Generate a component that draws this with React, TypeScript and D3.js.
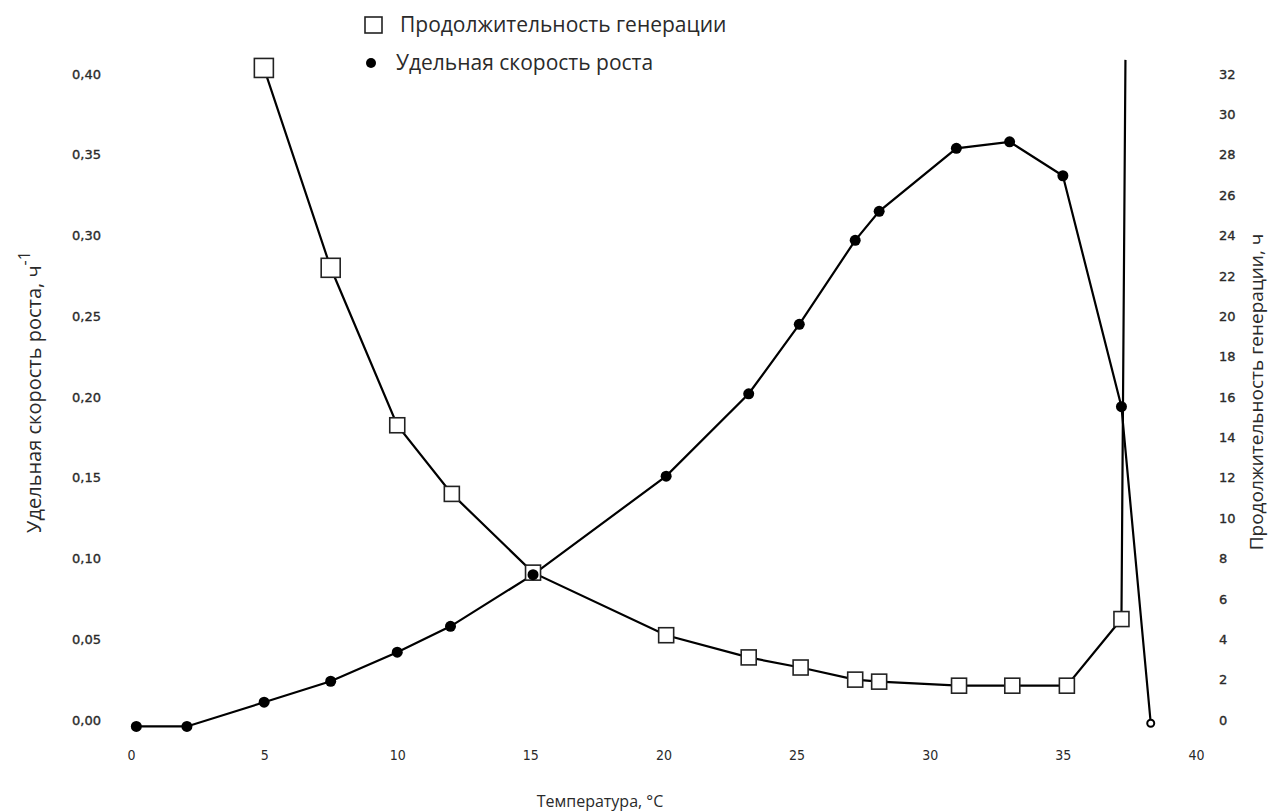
import React, { useEffect, useRef } from "react";
import * as d3 from "d3";

// температура, °C
const growthTemp = [0.2, 2.1, 5, 7.5, 10, 12, 15.1, 20.1, 23.2, 25.1, 27.2, 28.1, 31.0, 33.0, 35.0, 37.2, 38.3];
// удельная скорость роста, ч-1
const growthRate = [-0.004, -0.004, 0.011, 0.024, 0.042, 0.058, 0.090, 0.151, 0.202, 0.245, 0.297, 0.315, 0.354, 0.358, 0.337, 0.194, -0.002];

const genTemp = [4.99, 7.5, 10.0, 12.05, 15.1, 20.1, 23.2, 25.15, 27.2, 28.1, 31.1, 33.1, 35.15, 37.2, 37.35];
// продолжительность генерации, ч
const genTime = [32.3, 22.4, 14.6, 11.2, 7.3, 4.2, 3.1, 2.6, 2.0, 1.9, 1.7, 1.7, 1.7, 5.0, 32.7];

const xTicks = [0, 5, 10, 15, 20, 25, 30, 35, 40];
const leftTicks = [0, 0.05, 0.1, 0.15, 0.2, 0.25, 0.3, 0.35, 0.4];
const rightTicks = [0, 2, 4, 6, 8, 10, 12, 14, 16, 18, 20, 22, 24, 26, 28, 30, 32];

const W = 1278;
const H = 811;

const App = () => {
  const svgRef = useRef<SVGSVGElement>(null);

  useEffect(() => {
    const svg = d3.select(svgRef.current);
    svg.selectAll("*").remove();

    const x = d3.scaleLinear().domain([0, 40]).range([131, 1196]);
    const yL = d3.scaleLinear().domain([0, 0.4]).range([720, 74]);
    const yR = d3.scaleLinear().domain([0, 32]).range([720, 74]);

    const tickFont = "DejaVu Sans";
    const textCol = "#2a2a2a";

    // оси без линий и засечек
    const xAxis = d3.axisBottom(x).tickValues(xTicks).tickSize(0).tickPadding(0);
    const gx = svg.append("g").attr("transform", "translate(0,750)").call(xAxis);
    gx.select(".domain").remove();
    gx.selectAll("text")
      .attr("font-family", "'DejaVu Sans Condensed', 'DejaVu Sans'")
      .attr("font-size", 14)
      .attr("fill", textCol);

    const leftAxis = d3
      .axisLeft(yL)
      .tickValues(leftTicks)
      .tickSize(0)
      .tickPadding(0)
      .tickFormat((d) => d3.format(".2f")(d as number).replace(".", ","));
    const gl = svg.append("g").attr("transform", "translate(101,0)").call(leftAxis);
    gl.select(".domain").remove();
    gl.selectAll("text")
      .attr("font-family", tickFont)
      .attr("font-size", 13)
      .attr("fill", textCol)
      .attr("stroke", textCol)
      .attr("stroke-width", 0.35);

    const rightAxis = d3.axisRight(yR).tickValues(rightTicks).tickSize(0).tickPadding(0);
    const gr = svg.append("g").attr("transform", "translate(1219,0)").call(rightAxis);
    gr.select(".domain").remove();
    gr.selectAll("text")
      .attr("font-family", tickFont)
      .attr("font-size", 13)
      .attr("fill", textCol)
      .attr("stroke", textCol)
      .attr("stroke-width", 0.35);

    // линии
    const genData = genTemp.map((t, i) => [t, genTime[i]] as [number, number]);
    const growthData = growthTemp.map((t, i) => [t, growthRate[i]] as [number, number]);

    const genLine = d3.line<[number, number]>().x((d) => x(d[0])).y((d) => yR(d[1]));
    const growthLine = d3.line<[number, number]>().x((d) => x(d[0])).y((d) => yL(d[1]));

    svg.append("path").attr("d", genLine(genData)).attr("fill", "none").attr("stroke", "#000").attr("stroke-width", 2.2);
    svg.append("path").attr("d", growthLine(growthData)).attr("fill", "none").attr("stroke", "#000").attr("stroke-width", 2.2);

    // квадраты: первые две точки в оригинале крупнее
    const side = (v: number) => (v > 20 ? 19 : 15);
    svg
      .selectAll(".gen")
      .data(genData.slice(0, genData.length - 1))
      .join("rect")
      .attr("class", "gen")
      .attr("x", (d) => x(d[0]) - side(d[1]) / 2)
      .attr("y", (d) => yR(d[1]) - side(d[1]) / 2)
      .attr("width", (d) => side(d[1]))
      .attr("height", (d) => side(d[1]))
      .attr("fill", "#fff")
      .attr("stroke", "#222")
      .attr("stroke-width", 1.6);

    const lastIdx = growthData.length - 1;
    svg
      .selectAll(".growth")
      .data(growthData)
      .join("circle")
      .attr("class", "growth")
      .attr("cx", (d) => x(d[0]))
      .attr("cy", (d) => yL(d[1]))
      .attr("r", (d, i) => (i === lastIdx ? 3.5 : 5.5))
      .attr("fill", (d, i) => (i === lastIdx ? "#fff" : "#000"))
      .attr("stroke", "#000")
      .attr("stroke-width", (d, i) => (i === lastIdx ? 2 : 0));

    // легенда
    const legend = svg.append("g").attr("font-family", "'Open Sans', sans-serif").attr("font-size", 21).attr("fill", textCol);
    legend.append("rect").attr("x", 365).attr("y", 17).attr("width", 17).attr("height", 16).attr("fill", "#fff").attr("stroke", "#222").attr("stroke-width", 1.6);
    legend.append("text").attr("x", 400).attr("y", 32).text("Продолжительность генерации");
    legend.append("circle").attr("cx", 371).attr("cy", 63).attr("r", 5).attr("fill", "#000");
    legend.append("text").attr("x", 396).attr("y", 70).text("Удельная скорость роста");

    // подписи осей
    svg.append("text")
      .attr("x", 600).attr("y", 807)
      .attr("text-anchor", "middle")
      .attr("font-family", "'Open Sans', sans-serif")
      .attr("font-size", 16)
      .attr("fill", textCol)
      .text("Температура, °С");

    const lt = svg.append("text")
      .attr("transform", "translate(41,392) rotate(-90)")
      .attr("text-anchor", "middle")
      .attr("font-family", "'Open Sans', sans-serif")
      .attr("font-size", 20)
      .attr("fill", textCol);
    lt.append("tspan").text("Удельная скорость роста, ч");
    lt.append("tspan").attr("dy", -11).attr("font-size", 16).text("-1");

    svg.append("text")
      .attr("transform", "translate(1263,392) rotate(-90)")
      .attr("text-anchor", "middle")
      .attr("font-family", "'Open Sans', sans-serif")
      .attr("font-size", 19)
      .attr("fill", textCol)
      .text("Продолжительность генерации, ч");
  }, []);

  return (
    <svg
      ref={svgRef}
      width={W}
      height={H}
      viewBox={`0 0 ${W} ${H}`}
      style={{ position: "absolute", left: 0, top: 0, background: "#fff" }}
    />
  );
};

export default App;
